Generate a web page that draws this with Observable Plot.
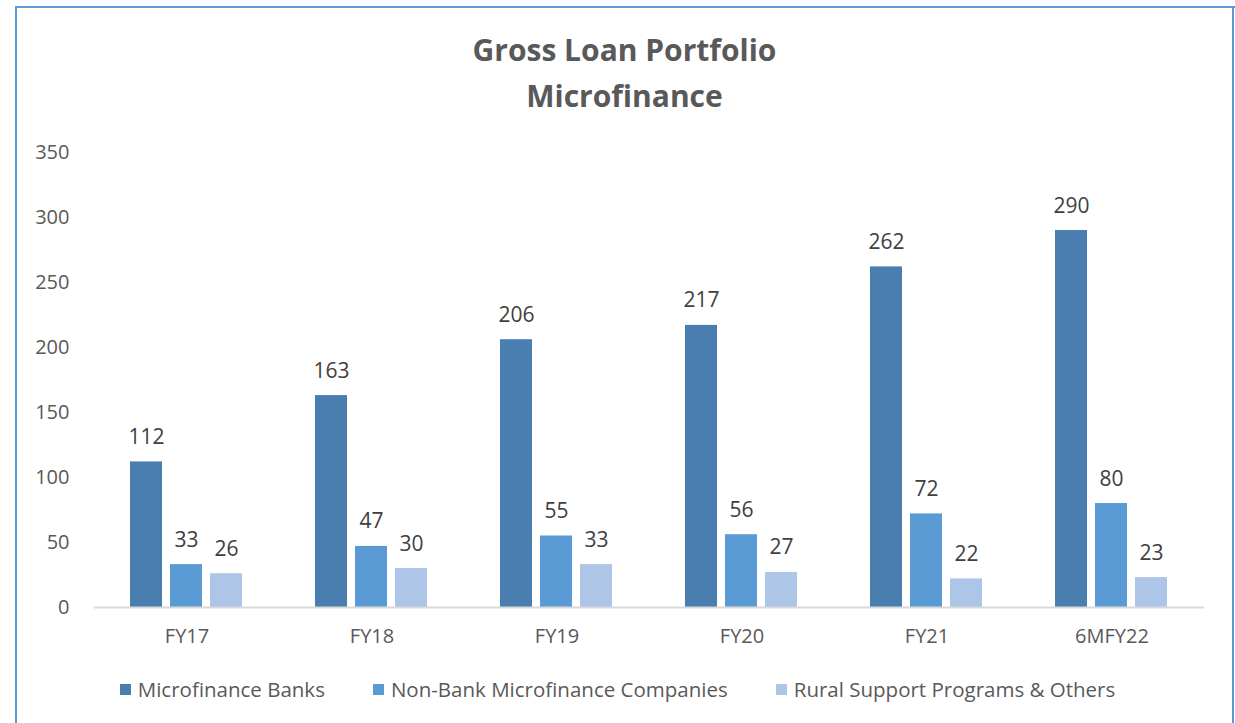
<!DOCTYPE html>
<html><head><meta charset="utf-8">
<script src="https://cdn.jsdelivr.net/npm/d3@7"></script>
<script src="https://cdn.jsdelivr.net/npm/@observablehq/plot@0.6"></script>
<style>
body{margin:0;background:#fff;font-family:"Open Sans",sans-serif;}
#frame{position:absolute;left:15px;top:6px;width:1220px;height:740px;border:2px solid #5b9bd5;border-bottom:none;border-right:none;box-sizing:border-box;}
#rline{position:absolute;left:1232px;top:6px;width:2px;height:740px;background:#5b9bd5;}
#title{position:absolute;left:16px;top:27px;width:1217px;text-align:center;font-weight:bold;font-size:30px;line-height:46px;color:#595959;}
#chart{position:absolute;left:16px;top:130px;}
#legend{position:absolute;left:0;top:675px;width:1235px;display:flex;justify-content:center;font-size:20.5px;color:#595959;}
.item{display:flex;align-items:center;margin:0 24px;}
.sw{width:11px;height:11px;margin-right:7px;}
</style></head>
<body>
<div id="frame"></div>
<div id="rline"></div>
<div id="title">Gross Loan Portfolio<br>Microfinance</div>
<div id="chart"></div>
<div id="legend"></div>
<script>
const categories = ["FY17","FY18","FY19","FY20","FY21","6MFY22"];
const series = ["Microfinance Banks","Non-Bank Microfinance Companies","Rural Support Programs & Others"];
const banks = [112,163,206,217,262,290];
const nonBank = [33,47,55,56,72,80];
const rural = [26,30,33,27,22,23];
const yTicks = [0,50,100,150,200,250,300,350];
const colors = ["#4a7eb0","#5b9bd5","#adc6e7"];

const values = [banks, nonBank, rural];
const data = [];
categories.forEach((c,i)=>series.forEach((s,j)=>data.push({cat:c, series:s, value:values[j][i]})));

const font = "'Open Sans', sans-serif";
const chart = Plot.plot({
  width: 1217, height: 535,
  marginLeft: 77, marginRight: 28, marginTop: 22, marginBottom: 58,
  style: {fontFamily: font, fontSize: "20px", color: "#595959", background: "transparent", overflow: "visible"},
  fx: {domain: categories, padding: 0, label: null, axis: "bottom", tickSize: 0, tickPadding: 21},
  x: {domain: series, paddingInner: 0.195, paddingOuter: 0.857, axis: null},
  y: {domain: [0,350], ticks: yTicks, tickSize: 0, tickPadding: 25, label: null, grid: false},
  color: {domain: series, range: colors},
  marks: [
    Plot.barY(data, {fx: "cat", x: "series", y: "value", fill: "series"}),
    Plot.ruleY([0], {stroke: "#d9d9d9", strokeWidth: 2}),
    Plot.text(data, {fx: "cat", x: "series", y: "value", text: d => String(d.value), lineAnchor: "bottom", dy: -18, fill: "#404040", fontSize: 21})
  ]
});
document.getElementById("chart").appendChild(chart);

const legend = document.getElementById("legend");
series.forEach((s,j)=>{
  const it = document.createElement("div"); it.className="item";
  const sw = document.createElement("div"); sw.className="sw"; sw.style.background=colors[j];
  const t = document.createElement("span"); t.textContent = s;
  it.appendChild(sw); it.appendChild(t); legend.appendChild(it);
});
</script>
</body></html>
